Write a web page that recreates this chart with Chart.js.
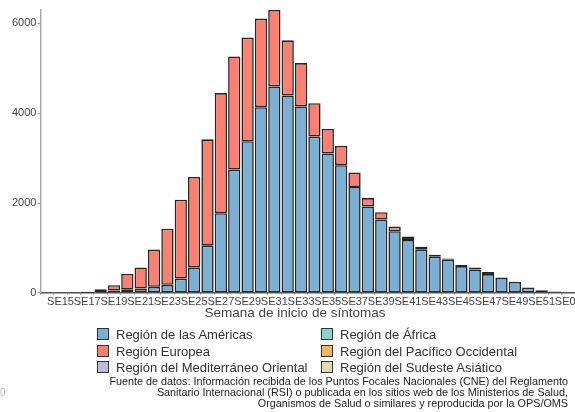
<!DOCTYPE html>
<html>
<head>
<meta charset="utf-8">
<script src="https://cdn.jsdelivr.net/npm/chart.js@4.4.1/dist/chart.umd.min.js"></script>
<style>
  body { margin: 0; background: #fff; font-family: "Liberation Sans", Arial, sans-serif; }
  #wrap { position: relative; width: 575px; height: 412px; overflow: hidden; }
  #c { position: absolute; left: 0; top: 0; }
  .xt { position: absolute; left: 0; width: 590px; top: 305px; text-align: center; font-size: 13.5px; color: #444; }
  .leg { position: absolute; font-size: 13px; color: #333; white-space: nowrap; }
  .leg span { display: inline-block; width: 10px; height: 10px; border: 1px solid #333; vertical-align: -1px; margin-right: 7px; }
  .src { position: absolute; right: 7px; top: 376px; font-size: 10.8px; line-height: 11px; color: #222; text-align: right; white-space: nowrap; }
  .zero { position: absolute; left: 0px; top: 387px; font-size: 10px; color: #bbb; }
</style>
</head>
<body>
<div id="wrap">
  <canvas id="c" width="575" height="412"></canvas>
  <div class="xt">Semana de inicio de síntomas</div>
  <div id="legend"></div>
  <div class="src">Fuente de datos: Información recibida de los Puntos Focales Nacionales (CNE) del Reglamento<br>Sanitario Internacional (RSI) o publicada en los sitios web de los Ministerios de Salud,<br>Organismos de Salud o similares y reproducida por la OPS/OMS</div>
  <div class="zero">0</div>
</div>
<script>
let weeks = ["SE14", "SE15", "SE16", "SE17", "SE18", "SE19", "SE20", "SE21", "SE22", "SE23",
    "SE24", "SE25", "SE26", "SE27", "SE28", "SE29", "SE30", "SE31", "SE32", "SE33",
    "SE34", "SE35", "SE36", "SE37", "SE38", "SE39", "SE40", "SE41", "SE42", "SE43",
    "SE44", "SE45", "SE46", "SE47", "SE48", "SE49", "SE50", "SE51", "SE52", "SE01"];

let americas = [0, 0, 0, 3, 8, 50, 70, 94, 132, 177,
    318, 565, 1050, 1774, 2746, 3376, 4136, 4598, 4397, 4151,
    3481, 3105, 2843, 2357, 1924, 1633, 1371, 1178, 961, 805,
    737, 596, 520, 417, 330, 244, 117, 58, 27, 0];

let europea = [0, 0, 3, 20, 70, 120, 350, 470, 830, 1250,
    1755, 2015, 2370, 2675, 2520, 2309, 1974, 1702, 1228, 967,
    744, 544, 432, 322, 186, 164, 105, 74, 67, 44,
    29, 25, 45, 44, 11, 0, 0, 0, 0, 0];

let mediterraneo = weeks.map(() => 0);
let africa = weeks.map(() => 0);
let pacifico = weeks.map(() => 0);
let sudeste = weeks.map(() => 0);

let yTicks = [0, 2000, 4000, 6000];

let series = [
    {label: "Región de las Américas", data: americas, color: "#7BAFD4"},
    {label: "Región Europea", data: europea, color: "#FB8072"},
    {label: "Región del Mediterráneo Oriental", data: mediterraneo, color: "#BEBADA"},
    {label: "Región de África", data: africa, color: "#8DD3C7"},
    {label: "Región del Pacífico Occidental", data: pacifico, color: "#FDB462"},
    {label: "Región del Sudeste Asiático", data: sudeste, color: "#DDDBB0"}
];

// legend in two columns, as in the picture
let legendPos = [[97, 327], [97, 343.5], [97, 360], [321, 327], [321, 343.5], [321, 360]];
let legendDiv = document.getElementById("legend");
series.forEach((s, i) => {
    let d = document.createElement("div");
    d.className = "leg";
    d.style.left = legendPos[i][0] + "px";
    d.style.top = legendPos[i][1] + "px";
    d.innerHTML = '<span style="background:' + s.color + '"></span>' + s.label;
    legendDiv.appendChild(d);
});

let datasets = series.map(s => ({
    label: s.label,
    data: s.data,
    backgroundColor: s.color,
    borderColor: "rgba(20,20,20,0.92)",
    borderWidth: s.data.some(v => v > 0) ? 1.6 : 0,
    borderSkipped: false,
    barPercentage: 0.92,
    categoryPercentage: 1
}));

new Chart(document.getElementById("c").getContext("2d"), {
    type: "bar",
    data: {labels: weeks, datasets: datasets},
    options: {
        responsive: false,
        devicePixelRatio: 1,
        animation: false,
        layout: {padding: {left: 11, top: 10, right: 0, bottom: 102}},
        plugins: {legend: {display: false}, tooltip: {enabled: false}},
        scales: {
            x: {
                stacked: true,
                grid: {display: true, drawOnChartArea: false, tickLength: 2, color: "#999"},
                border: {color: "#555", width: 1.5},
                ticks: {
                    autoSkip: false, maxRotation: 0, padding: 1,
                    color: "#444", font: {family: "Liberation Sans", size: 11},
                    callback: function (v, i) { return i % 2 === 1 ? weeks[i] : ""; }
                },
                afterFit: function (scale) { scale.paddingRight = 0; }
            },
            y: {
                stacked: true,
                min: 0,
                max: 6300,
                afterBuildTicks: function (scale) { scale.ticks = yTicks.map(v => ({value: v})); },
                grid: {display: true, drawOnChartArea: false, tickLength: 3, color: "#999"},
                border: {color: "#aaa", width: 1.5},
                ticks: {
                    padding: 1, color: "#444", font: {family: "Liberation Sans", size: 11},
                    callback: function (v) { return String(v); }
                }
            }
        }
    }
});
</script>
</body>
</html>
